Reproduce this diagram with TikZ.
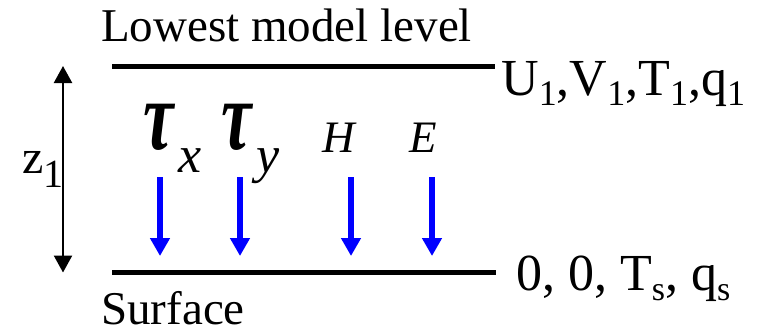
\documentclass[tikz,border=0pt]{standalone}
\usepackage{fontspec}
\setmainfont{Liberation Serif}
\usetikzlibrary{arrows.meta}

\begin{document}
\begin{tikzpicture}[x=0.5pt,y=0.5pt, line width=1.2pt]
    \tikzstyle{level} = [line width=2.5pt]
    \tikzstyle{flux} = [blue, line width=3pt, -{Triangle[length=9pt,width=9.5pt]}]
    \tikzstyle{depth} = [{Triangle[length=8.5pt,width=9pt]}-{Triangle[length=8.5pt,width=9pt]}]
    \tikzstyle{lbl} = [inner sep=0pt, anchor=base west]

    \useasboundingbox (0,0) rectangle (758,333);

    % Niveaux
    \coordinate (top-l) at (112,267);
    \coordinate (top-r) at (495,267);
    \coordinate (bot-l) at (112,60.5);
    \coordinate (bot-r) at (496,60.5);

    \draw[level] (top-l) -- (top-r);
    \draw[level] (bot-l) -- (bot-r);

    \node[lbl, font=\fontsize{23.5}{23.5}\selectfont] (lowest) at (100,292) {Lowest model level};
    \node[lbl, font=\fontsize{23.5}{23.5}\selectfont] (surface) at (100,9) {Surface};
    \node[lbl, font=\fontsize{26}{26}\selectfont] (vars1) at (500,238)
        {U{\raisebox{-5pt}{\fontsize{18}{18}\selectfont 1}},V{\raisebox{-5pt}{\fontsize{18}{18}\selectfont 1}},T{\raisebox{-5pt}{\fontsize{18}{18}\selectfont 1}},q{\raisebox{-5pt}{\fontsize{18}{18}\selectfont 1}}};
    \node[lbl, font=\fontsize{26}{26}\selectfont] (varss) at (515,43)
        {0, 0, T{\raisebox{-5pt}{\fontsize{17}{17}\selectfont s}}, q{\raisebox{-5pt}{\fontsize{17}{17}\selectfont s}}};

    % Epaisseur z1
    \coordinate (z-top) at (63,267);
    \coordinate (z-bot) at (63,60.5);
    \draw[depth] (z-top) -- (z-bot);
    \node[lbl, font=\fontsize{24}{24}\selectfont] (z1) at (21,160)
        {z\raisebox{-7pt}{\fontsize{20}{20}\selectfont 1}};

    % Flux
    \node[lbl] (tau-x) at (142,184)
        {\scalebox{0.9}[1.3]{\fontsize{38}{38}\selectfont\bfseries\itshape τ}\kern2.5pt\raisebox{-11.5pt}{\fontsize{26}{26}\selectfont\itshape x}};
    \node[lbl] (tau-y) at (220,184)
        {\scalebox{0.9}[1.3]{\fontsize{38}{38}\selectfont\bfseries\itshape τ}\kern2.5pt\raisebox{-11.5pt}{\fontsize{26}{26}\selectfont\itshape y}};
    \node[lbl, font=\fontsize{22.5}{22.5}\selectfont\itshape] (heat) at (321,181) {H};
    \node[lbl, font=\fontsize{22.5}{22.5}\selectfont\itshape] (evap) at (408,181) {E};

    \coordinate (tx-a) at (160,156);
    \coordinate (tx-b) at (160,77);
    \coordinate (ty-a) at (240,156);
    \coordinate (ty-b) at (240,77);
    \coordinate (h-a) at (351,156);
    \coordinate (h-b) at (351,77);
    \coordinate (e-a) at (432,156);
    \coordinate (e-b) at (432,77);

    \draw[flux] (tx-a) -- (tx-b);
    \draw[flux] (ty-a) -- (ty-b);
    \draw[flux] (h-a) -- (h-b);
    \draw[flux] (e-a) -- (e-b);
\end{tikzpicture}
\end{document}
